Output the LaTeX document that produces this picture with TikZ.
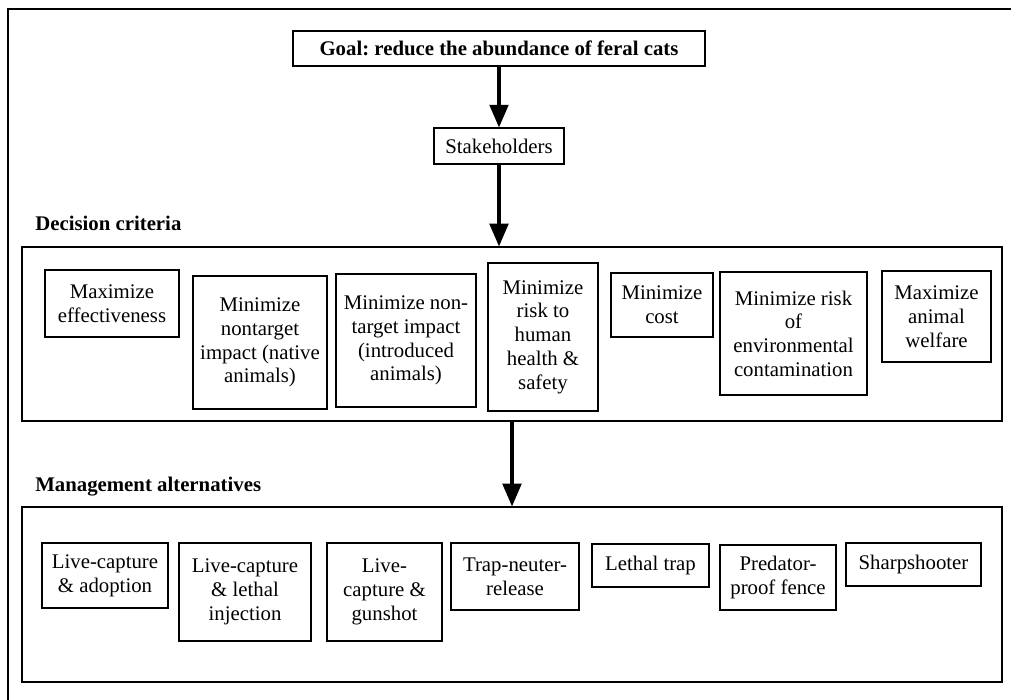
\documentclass[tikz,border=0pt]{standalone}
\usepackage{fontspec}
\setmainfont{Liberation Serif}
\usetikzlibrary{arrows.meta}
\frenchspacing
\newcommand\placebox[7][]{\node[box,#1, minimum width={(#5-(#3))*0.75pt}, minimum height={(#6-(#4))*0.75pt}] (#2) at ({(#3+#5)/2},{(#4+#6)/2}) {#7};}
\begin{document}
\begin{tikzpicture}[x=0.75pt,y=-0.75pt,
  txt/.style={font=\fontsize{15.6pt}{17.8pt}\selectfont},
  box/.style={draw, line width=0.8pt, inner sep=0pt, align=center, txt},
  frame/.style={draw, line width=0.9pt},
  lbl/.style={txt, font=\fontsize{15.6pt}{17.8pt}\selectfont\bfseries, inner sep=0pt, anchor=base west},
  arr/.style={line width=2.3pt, -{Triangle[width=14pt,length=17pt]}}]
\useasboundingbox (0,0) rectangle (1011,700);
% outer frame
\coordinate (ftr) at (1011,9);
\coordinate (ftl) at (8,9);
\coordinate (fbl) at (8,700);
\draw[line width=1.2pt] (ftr) -- (ftl) -- (fbl);
% top
\placebox[font=\fontsize{15.6pt}{17.8pt}\selectfont\bfseries]{goal}{293}{31}{705}{66}{Goal: reduce the abundance of feral cats}
\placebox{stake}{434}{128}{564}{164}{Stakeholders}
% frames
\placebox[frame]{crit}{22}{247}{1002}{421}{}
\placebox[frame]{mgmt}{22}{507}{1002}{682}{}
\node[lbl] (critlbl) at (35,230) {Decision criteria};
\node[lbl] (mgmtlbl) at (35,491) {Management alternatives};
% criteria
\placebox{c1}{45}{270}{179}{337}{Maximize\\effectiveness}
\placebox{c2}{193}{276}{327}{409}{Minimize\\nontarget\\impact (native\\animals)}
\placebox{c3}{336}{274}{476}{407}{Minimize non-\\target impact\\(introduced\\animals)}
\placebox{c4}{488}{263}{598}{411}{Minimize\\risk to\\human\\health \&\\safety}
\placebox{c5}{611}{273}{713}{337}{Minimize\\cost}
\placebox{c6}{720}{272}{867}{395}{Minimize risk\\of\\environmental\\contamination}
\placebox{c7}{882}{271}{991}{362}{Maximize\\animal\\welfare}
% alternatives
\placebox{a1}{42}{543}{168}{608}{Live-capture\\\& adoption}
\placebox{a2}{179}{543}{311}{641}{Live-capture\\\& lethal\\injection}
\placebox{a3}{327}{543}{442}{641}{Live-\\capture \&\\gunshot}
\placebox{a4}{451}{543}{579}{610}{Trap-neuter-\\release}
\placebox{a5}{592}{544}{709}{587}{Lethal trap}
\placebox{a6}{720}{545}{836}{610}{Predator-\\proof fence}
\placebox{a7}{846}{543}{981}{586}{Sharpshooter}
% arrows
\draw[arr] (goal.south) -- (stake.north);
\draw[arr] (stake.south) -- (stake.south |- crit.north);
\draw[arr] (crit.south) -- (mgmt.north);
\end{tikzpicture}
\end{document}
